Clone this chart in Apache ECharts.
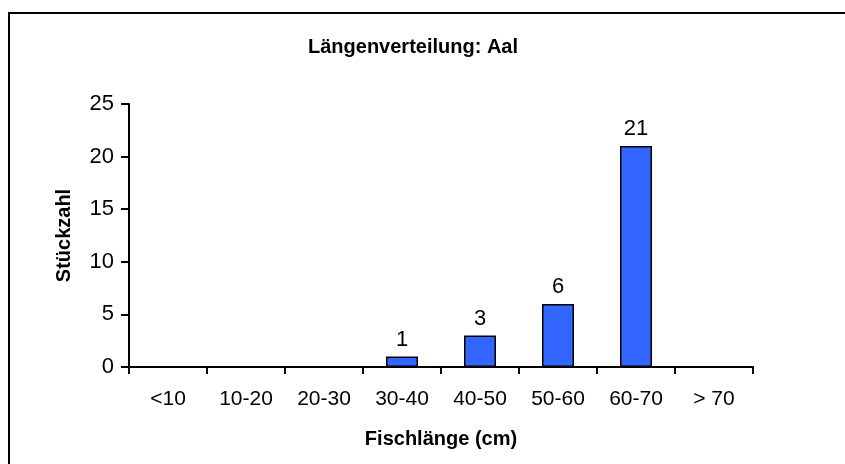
<!DOCTYPE html>
<html>
<head>
<meta charset="utf-8">
<script src="https://cdn.jsdelivr.net/npm/echarts@6/dist/echarts.min.js"></script>
<style>
  html, body { margin: 0; padding: 0; background: #fff; }
  #chart { width: 845px; height: 464px; }
</style>
</head>
<body>
<div id="chart"></div>
<script>
// Length classes of the eels caught, and how many fell in each class
const lengthClasses = ['<10', '10-20', '20-30', '30-40', '40-50', '50-60', '60-70', '> 70'];
const counts = [0, 0, 0, 1, 3, 6, 21, 0];
const yTicks = [0, 5, 10, 15, 20, 25];

const FONT = 'Liberation Sans, Arial, sans-serif';

const chart = echarts.init(document.getElementById('chart'), null, { renderer: 'canvas' });

chart.setOption({
  animation: false,
  backgroundColor: '#ffffff',
  title: {
    text: 'Längenverteilung: Aal',
    left: 408,
    top: 32,
    textAlign: 'center',
    textStyle: { fontFamily: FONT, fontSize: 20, fontWeight: 'bold', color: '#000' }
  },
  graphic: [{
    type: 'rect',
    shape: { x: 9, y: 13, width: 900, height: 500 },
    style: { fill: null, stroke: '#000', lineWidth: 2 },
    silent: true
  }],
  grid: { left: 129, right: 92, top: 104, bottom: 97, containLabel: false },
  xAxis: {
    type: 'category',
    data: lengthClasses,
    boundaryGap: true,
    name: 'Fischlänge (cm)',
    nameLocation: 'middle',
    nameGap: 62,
    nameTextStyle: { fontFamily: FONT, fontSize: 20, fontWeight: 'bold', color: '#000' },
    axisLine: { lineStyle: { color: '#000', width: 2 } },
    axisTick: { show: true, interval: 0, length: 7, lineStyle: { color: '#000', width: 2 } },
    axisLabel: { interval: 0, margin: 22, fontFamily: FONT, fontSize: 21, color: '#000' },
    splitLine: { show: false }
  },
  yAxis: {
    type: 'value',
    min: yTicks[0],
    max: yTicks[yTicks.length - 1],
    interval: yTicks[1] - yTicks[0],
    name: 'Stückzahl',
    nameLocation: 'middle',
    nameGap: 55,
    nameRotate: 90,
    nameTextStyle: { fontFamily: FONT, fontSize: 20, fontWeight: 'bold', color: '#000' },
    axisLine: { show: true, lineStyle: { color: '#000', width: 2 } },
    axisTick: { show: true, length: 8, lineStyle: { color: '#000', width: 2 } },
    axisLabel: { margin: 15, padding: [6, 0, 0, 0], fontFamily: FONT, fontSize: 22, color: '#000' },
    splitLine: { show: false }
  },
  series: [{
    type: 'bar',
    data: counts,
    barCategoryGap: '59%',
    itemStyle: { color: '#3366ff', borderColor: '#000', borderWidth: 1.5 },
    label: {
      show: true,
      position: 'top',
      distance: 6,
      fontFamily: FONT,
      fontSize: 22,
      color: '#000',
      formatter: p => (p.value > 0 ? String(p.value) : '')
    }
  }]
});
</script>
</body>
</html>
